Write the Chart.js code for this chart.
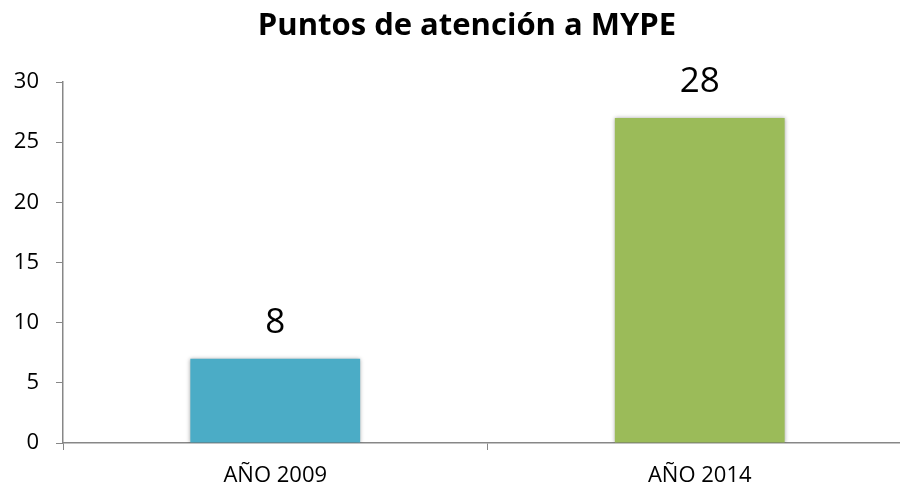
<!DOCTYPE html>
<html>
<head>
<meta charset="utf-8">
<script src="https://cdn.jsdelivr.net/npm/chart.js@4.4.1/dist/chart.umd.min.js"></script>
<style>
  html, body { margin:0; padding:0; background:#fff; overflow:hidden; }
  #wrap { width:912px; height:489px; }
</style>
</head>
<body>
<div id="wrap"><canvas id="c" width="912" height="489"></canvas></div>
<script>
// data
const categories = ['AÑO 2009', 'AÑO 2014'];
const barValues  = [7, 27];
const barLabels  = ['8', '28'];   // printed labels (differ from bar heights in the original)
const barColors  = ['#4BACC6', '#9BBB59'];
const yTicks     = [0, 5, 10, 15, 20, 25, 30];
const chartTitle = 'Puntos de atención a MYPE';

const FONT = '"Open Sans", sans-serif';
const AXIS = '#878787';

// soft grey shadow around the bars
const barShadow = {
  id:'barShadow',
  beforeDatasetsDraw(chart){
    const c = chart.ctx;
    c.save();
    c.shadowColor = 'rgba(0,0,0,0.35)';
    c.shadowBlur = 4;
    c.shadowOffsetX = 0;
    c.shadowOffsetY = 0;
  },
  afterDatasetsDraw(chart){ chart.ctx.restore(); }
};

// value labels above bars + title
const labelsAndTitle = {
  id:'labelsAndTitle',
  afterDraw(chart){
    const c = chart.ctx;
    const meta = chart.getDatasetMeta(0);
    c.save();
    c.fillStyle = '#000';
    c.textAlign = 'center';
    c.textBaseline = 'middle';
    c.font = '35px ' + FONT;
    meta.data.forEach((bar, i)=>{
      c.fillText(barLabels[i], bar.x, bar.y - 36);
    });
    c.font = 'bold 31px ' + FONT;
    c.fillText(chartTitle, 467, 26);
    c.restore();
  }
};

new Chart(document.getElementById('c'), {
  type:'bar',
  data:{
    labels: categories,
    datasets:[{
      data: barValues,
      backgroundColor: barColors,
      borderWidth: 0,
      barPercentage: 0.4,
      categoryPercentage: 1
    }]
  },
  options:{
    responsive:false,
    animation:false,
    layout:{ padding:{ top:82, left:0, right:0, bottom:0 } },
    plugins:{ legend:{display:false}, tooltip:{enabled:false}, title:{display:false} },
    scales:{
      x:{
        grid:{ drawOnChartArea:false, drawTicks:true, tickLength:7, color:AXIS, offset:true },
        border:{ display:true, color:AXIS, width:1.5 },
        ticks:{ color:'#000', font:{ family:FONT, size:22 }, padding:13 },
        afterFit(s){ s.height = 46; }
      },
      y:{
        min:0, max:30,
        afterBuildTicks(s){ s.ticks = yTicks.map(v=>({value:v})); },
        grid:{ drawOnChartArea:false, drawTicks:true, tickLength:7, color:AXIS },
        border:{ display:true, color:AXIS, width:1.5 },
        ticks:{ color:'#000', font:{ family:FONT, size:22 }, padding:17 },
        afterFit(s){ s.width = 63; }
      }
    }
  },
  plugins:[barShadow, labelsAndTitle]
});
</script>
</body>
</html>
